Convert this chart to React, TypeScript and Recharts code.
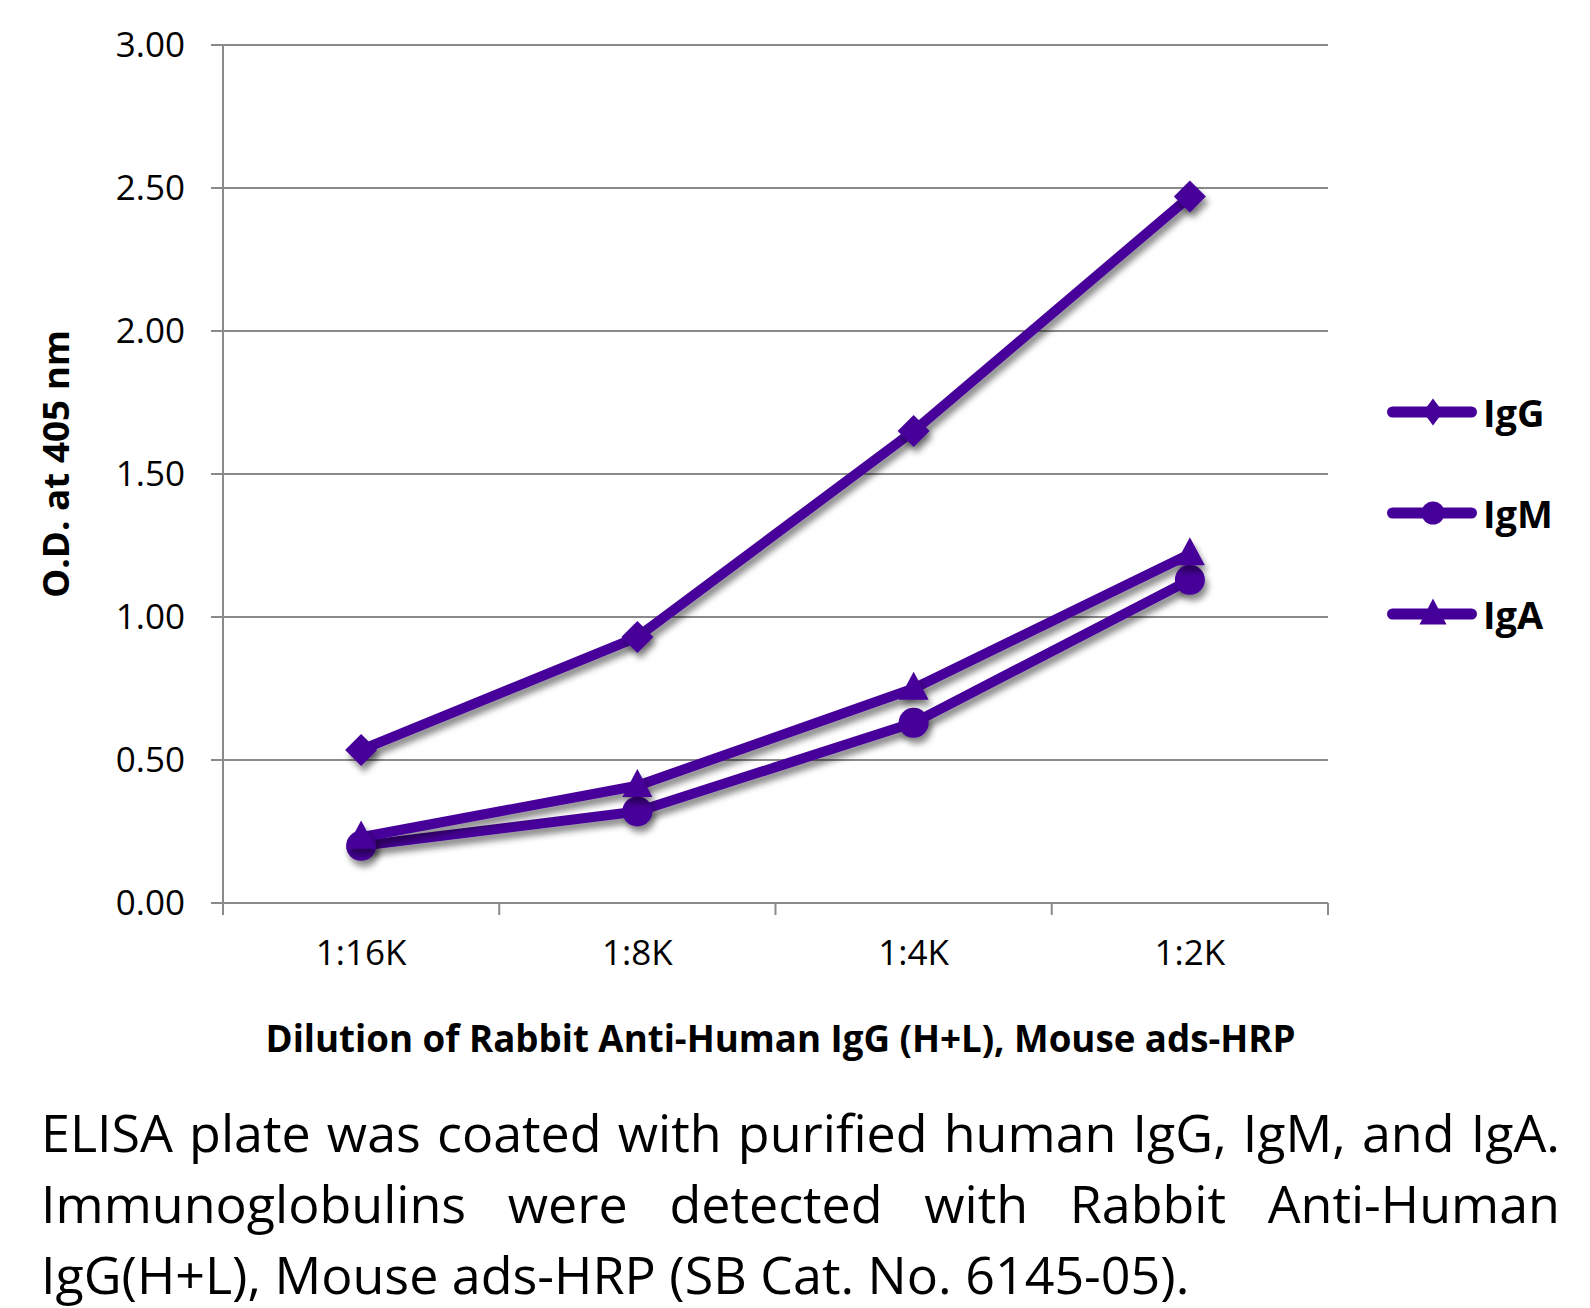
import React from 'react';
import { LineChart, Line, XAxis, YAxis, CartesianGrid, Legend, Label } from 'recharts';

// values
const dilutions = ['1:16K', '1:8K', '1:4K', '1:2K'];
const seriesNames = ['IgG', 'IgM', 'IgA'];
const iggValues = [0.535, 0.93, 1.65, 2.47];
const igmValues = [0.2, 0.32, 0.63, 1.13];
const igaValues = [0.23, 0.41, 0.75, 1.22];
const yTicks = [0, 0.5, 1, 1.5, 2, 2.5, 3];

const data = dilutions.map((d, i) => ({
  dil: d,
  IgG: iggValues[i],
  IgM: igmValues[i],
  IgA: igaValues[i],
}));

const PURPLE = '#46009a';
const GRID = '#8a8a8a';
const FONT = '"Open Sans", sans-serif';
const TICK_SIZE = 12;
const TICK_MARGIN = 25;

const Diamond = ({ cx, cy, w, h, filter }: any) => (
  <path d={`M${cx},${cy - h}L${cx + w},${cy}L${cx},${cy + h}L${cx - w},${cy}Z`} fill={PURPLE} filter={filter} />
);
const Circle = ({ cx, cy, r, filter }: any) => <circle cx={cx} cy={cy} r={r} fill={PURPLE} filter={filter} />;
const Triangle = ({ cx, cy, w, h, filter }: any) => (
  <path d={`M${cx},${cy - h * 0.6}L${cx + w},${cy + h * 0.4}L${cx - w},${cy + h * 0.4}Z`} fill={PURPLE} filter={filter} />
);

const diamondDot = (p: any) => <Diamond key={`g${p.index}`} cx={p.cx} cy={p.cy} w={16} h={16} filter="url(#shadow)" />;
const circleDot = (p: any) => <Circle key={`m${p.index}`} cx={p.cx} cy={p.cy} r={15} filter="url(#shadow)" />;
const triangleDot = (p: any) => <Triangle key={`a${p.index}`} cx={p.cx} cy={p.cy} w={15} h={28} filter="url(#shadow)" />;

// Excel-style category axis: labels at the band centre, tick marks on the band edges
const CategoryTick = (props: any) => {
  const { x, y, payload } = props;
  const half = payload.offset ?? 0;
  const axisY = y - TICK_SIZE - TICK_MARGIN;
  const isLast = payload.value === dilutions[dilutions.length - 1];
  return (
    <g>
      <line x1={x - half} x2={x - half} y1={axisY} y2={axisY + TICK_SIZE} stroke={GRID} strokeWidth={2} />
      {isLast && <line x1={x + half} x2={x + half} y1={axisY} y2={axisY + TICK_SIZE} stroke={GRID} strokeWidth={2} />}
      <text x={x} y={y} dy="0.71em" textAnchor="middle" fill="#000" fontSize={35} fontFamily={FONT}>
        {payload.value}
      </text>
    </g>
  );
};

const legendMarker: Record<string, (x: number, y: number) => React.ReactNode> = {
  IgG: (x, y) => <Diamond cx={x} cy={y} w={10} h={13.5} />,
  IgM: (x, y) => <Circle cx={x} cy={y} r={11.5} />,
  IgA: (x, y) => <Triangle cx={x} cy={y} w={13.5} h={26} />,
};

const renderLegend = (props: any) => {
  const items = [...(props.payload || [])].sort(
    (a: any, b: any) => seriesNames.indexOf(a.value) - seriesNames.indexOf(b.value)
  );
  return (
    <div>
      {items.map((entry: any) => (
        <div key={entry.value} style={{ display: 'flex', alignItems: 'center', height: 101 }}>
          <svg width={100} height={40}>
            <line x1={11.5} x2={90.5} y1={20} y2={20} stroke={PURPLE} strokeWidth={11} strokeLinecap="round" />
            {legendMarker[entry.value](52, 20)}
          </svg>
          <span style={{ fontFamily: FONT, fontWeight: 700, fontSize: 38, color: '#000', marginLeft: 2 }}>
            {entry.value}
          </span>
        </div>
      ))}
    </div>
  );
};

const renderYTitle = (props: any) => {
  const vb = props.viewBox;
  const x = vb.x + 69;
  const y = vb.y + vb.height / 2 - 10;
  return (
    <text x={x} y={y} transform={`rotate(-90, ${x}, ${y})`} textAnchor="middle" fontFamily={FONT}
      fontWeight={700} fontSize={36} fill="#000" textLength={268} lengthAdjust="spacingAndGlyphs">
      O.D. at 405 nm
    </text>
  );
};

const renderXTitle = (props: any) => {
  const vb = props.viewBox;
  return (
    <text x={vb.x + vb.width / 2 + 5} y={vb.y + 149} textAnchor="middle" fontFamily={FONT}
      fontWeight={700} fontSize={37} fill="#000" textLength={1030} lengthAdjust="spacingAndGlyphs">
      Dilution of Rabbit Anti-Human IgG (H+L), Mouse ads-HRP
    </text>
  );
};

const lineStyle = { stroke: PURPLE, strokeWidth: 10, strokeLinejoin: 'round' as const };

export default function App() {
  return (
    <div style={{ position: 'absolute', left: 0, top: 0, width: 1590, height: 1308, background: '#fff' }}>
      <LineChart width={1590} height={1090} data={data} margin={{ top: 45, right: 262, bottom: 0, left: 0 }}>
        <defs>
          <filter id="shadow" filterUnits="userSpaceOnUse" x={0} y={0} width={1590} height={1090}>
            <feDropShadow dx={3} dy={6} stdDeviation={3} floodColor="#000" floodOpacity={0.45} />
          </filter>
        </defs>
        <CartesianGrid vertical={false} stroke={GRID} strokeWidth={2} />
        <XAxis dataKey="dil" scale="band" height={187} tickSize={TICK_SIZE} tickMargin={TICK_MARGIN}
          tickLine={false} axisLine={{ stroke: GRID, strokeWidth: 2 }} interval={0}
          tick={<CategoryTick />}>
          <Label content={renderXTitle} />
        </XAxis>
        <YAxis domain={[0, 3]} ticks={yTicks} width={223} tickSize={12} tickMargin={26}
          tickFormatter={(v: number) => v.toFixed(2)}
          axisLine={{ stroke: GRID, strokeWidth: 2 }} tickLine={{ stroke: GRID, strokeWidth: 2 }}
          tick={{ fill: '#000', fontSize: 35, fontFamily: FONT }}>
          <Label content={renderYTitle} />
        </YAxis>
        <Legend layout="horizontal" verticalAlign="middle" align="center" content={renderLegend}
          wrapperStyle={{ position: 'absolute', left: 1381, top: 361, width: 209 }} />
        <Line dataKey="IgG" name="IgG" {...lineStyle} filter="url(#shadow)" dot={diamondDot} isAnimationActive={false} />
        <Line dataKey="IgM" name="IgM" {...lineStyle} filter="url(#shadow)" dot={circleDot} isAnimationActive={false} />
        <Line dataKey="IgA" name="IgA" {...lineStyle} filter="url(#shadow)" dot={triangleDot} isAnimationActive={false} />
      </LineChart>
      <div style={{ position: 'absolute', left: 41, top: 1096, width: 1519, fontFamily: FONT, fontSize: 52,
        lineHeight: '71px', color: '#000', letterSpacing: 0 }}>
        <div style={{ textAlign: 'justify', textAlignLast: 'justify', whiteSpace: 'nowrap' }}>
          ELISA plate was coated with purified human IgG, IgM, and IgA.
        </div>
        <div style={{ textAlign: 'justify', textAlignLast: 'justify', whiteSpace: 'nowrap' }}>
          Immunoglobulins were detected with Rabbit Anti-Human
        </div>
        <div style={{ whiteSpace: 'nowrap' }}>IgG(H+L), Mouse ads-HRP (SB Cat. No. 6145-05).</div>
      </div>
    </div>
  );
}
